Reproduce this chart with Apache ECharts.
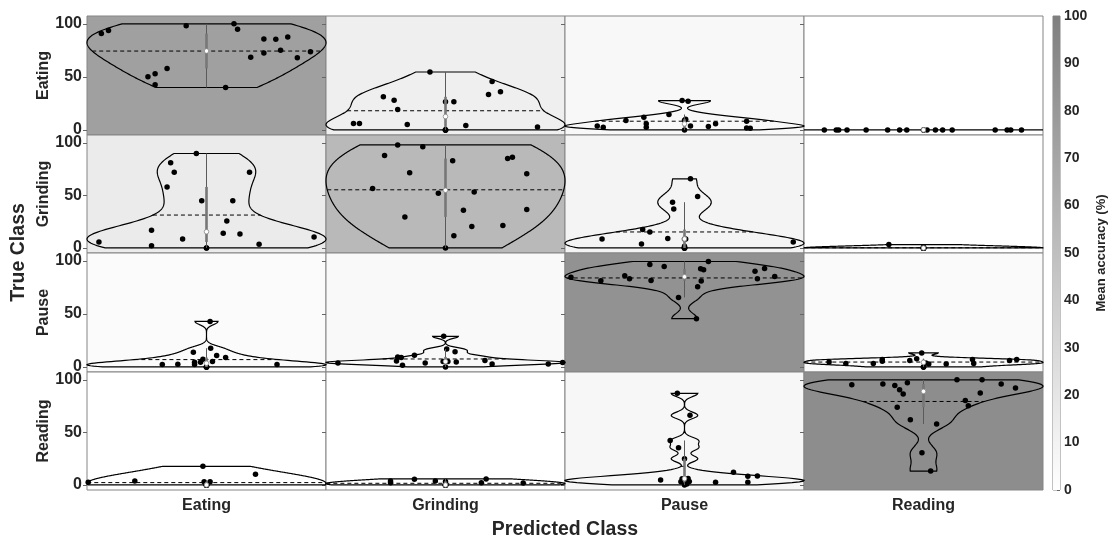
<!DOCTYPE html>
<html><head><meta charset="utf-8">
<script src="https://cdn.jsdelivr.net/npm/echarts@6/dist/echarts.min.js"></script>
<style>html,body{margin:0;padding:0;background:#fff}#c{width:1113px;height:545px}</style>
</head><body><div id="c"></div>
<script>
// ---------------- data ----------------
const classes = ['Eating', 'Grinding', 'Pause', 'Reading'];
const yTicks = [0, 50, 100];
const cbRange = [0, 100];
const cbTitle = 'Mean accuracy (%)';
const xTitle = 'Predicted Class';
const yTitle = 'True Class';

// per true class: one list per predicted class (accuracy % of each subject)
const eatingVals = [
  [90.8, 93.7, 98.1, 50.2, 53, 42.6, 58, 40, 100, 95, 68.5, 85.8, 72.6, 85.5, 75, 87.7, 68.1, 73.8],
  [54.6, 45.7, 33.4, 36, 31.2, 28, 26.5, 26.5, 19.2, 6, 6, 5, 4.1, 2.8, 0, 0, 0, 0],
  [3.8, 2.5, 8.8, 12, 5.7, 2.5, 14.5, 27.7, 27.1, 0, 3.8, 3.1, 5.7, 8.1, 1.9, 1.5, 9, 10],
  [0, 0, 0, 0, 0, 0, 0, 0, 0, 0, 0, 0, 0, 0, 0, 0, 0, 0]
];
const grindingVals = [
  [89.8, 81, 72, 72, 58, 45, 45, 25.7, 16.8, 14, 13.3, 8.6, 5.7, 10.5, 2.2, 3.5, 0, 0],
  [98, 96.2, 87.9, 82.9, 85, 86.3, 71.4, 70.5, 56.5, 52, 53.3, 35.9, 36.5, 29.5, 20.3, 21.3, 11.7, 0],
  [65.7, 48.9, 43.5, 37.1, 17.5, 15.2, 8.9, 8.6, 3.8, 5.7, 1.6, 8.6, 8.6, 0, 0, 0, 0, 0],
  [3.2, 0, 0, 0, 0, 0, 0, 0, 0, 0, 0, 0, 0, 0, 0, 0, 0, 0]
];
const pauseVals = [
  [42.9, 13.8, 17.6, 7.2, 10.7, 8.8, 4.4, 2.2, 2.2, 2.5, 2.2, 0, 0, 0, 0, 0, 4.5, 5],
  [28.8, 16.9, 14.4, 11, 9.4, 8.8, 5.6, 1.6, 3.8, 4.7, 6, 2.8, 0, 3.8, 2.8, 4.1, 5, 5],
  [96.6, 94.7, 99.4, 92.5, 91.5, 90.3, 92.8, 81.5, 80.9, 75.5, 83.1, 85.3, 65.5, 45.5, 84.6, 81.2, 85.9, 83.1],
  [13.2, 4.7, 3.1, 3.1, 6.9, 5.3, 6, 7.8, 0, 3.8, 2.8, 2.8, 6.9, 3.1, 6, 6.9, 0, 0]
];
const readingVals = [
  [17.7, 10.1, 3.8, 2.5, 3, 3, 0, 0, 0, 0, 0, 0, 0, 0, 0, 0, 0, 0],
  [3.8, 2.2, 5.4, 3.8, 5.7, 2.2, 1.9, 3.4, 0, 0, 0, 0, 0, 0, 0, 0, 0, 0],
  [87.1, 66.2, 42.3, 35.3, 24.9, 12, 8.2, 8.5, 4.7, 3.2, 2.5, 2.5, 0, 1, 3, 5.5, 5.9, 6.1],
  [95.3, 95.9, 94.6, 90.5, 86.4, 97.2, 100, 100, 95.9, 92.1, 87.4, 80.4, 75.4, 73.8, 62.1, 58, 30.6, 13.2]
];

// horizontal jitter of each dot (-1..1 of the half cell)
const eatingJit = [
  [-0.88, -0.82, -0.17, -0.49, -0.43, -0.43, -0.33, 0.16, 0.23, 0.26, 0.37, 0.48, 0.48, 0.58, 0.62, 0.68, 0.76, 0.87],
  [-0.13, 0.39, 0.36, 0.46, -0.52, -0.43, 0, 0.07, -0.40, -0.77, -0.72, -0.32, 0.17, 0.77, 0, 0, 0, 0],
  [-0.73, -0.68, -0.49, -0.34, -0.32, -0.32, -0.13, -0.02, 0.03, 0, 0.05, 0.2, 0.26, 0.52, 0.52, 0.55, 0, 0.01],
  [-0.83, -0.73, -0.71, -0.64, -0.48, -0.30, -0.20, -0.14, 0.03, 0.10, 0.16, 0.24, 0.60, 0.70, 0.73, 0.82, 0, 0]
];
const grindingJit = [
  [-0.085, -0.30, -0.27, 0.36, -0.33, -0.04, 0.22, 0.17, -0.46, 0.14, 0.28, -0.20, -0.90, 0.90, -0.46, 0.44, 0, 0],
  [-0.40, -0.19, -0.51, 0.06, 0.52, 0.56, -0.30, 0.68, -0.61, -0.06, 0.24, 0.15, 0.68, -0.34, 0.22, 0.48, 0.07, 0],
  [0.05, 0.11, -0.10, -0.09, -0.35, -0.29, -0.14, 0, -0.36, 0.91, 0, -0.69, 0.01, 0, 0, 0, 0, 0],
  [-0.29, 0, 0, 0, 0, 0, 0, 0, 0, 0, 0, 0, 0, 0, 0, 0, 0, 0]
];
const pauseJit = [
  [0.03, -0.11, 0.035, -0.03, 0.085, 0.16, -0.10, -0.10, -0.37, -0.24, 0.59, 0, 0, 0, 0, 0, -0.05, 0.05],
  [-0.015, 0.01, 0.08, -0.26, -0.40, -0.37, -0.41, -0.36, -0.17, 0.09, 0.33, 0.39, 0, -0.90, 0.86, 0.98, -0.02, 0.02],
  [-0.29, -0.17, 0.20, 0.135, 0.16, 0.59, 0.67, -0.28, 0.14, 0.11, 0.61, 0.755, -0.05, 0.10, -0.95, -0.70, -0.50, -0.46],
  [-0.015, -0.79, -0.65, -0.42, -0.345, -0.345, -0.115, -0.057, 0, 0.02, 0.044, 0.19, 0.41, 0.42, 0.72, 0.78, 0, 0]
];
const readingJit = [
  [-0.03, 0.41, -0.60, -0.99, -0.02, 0.03, 0, 0, 0, 0, 0, 0, 0, 0, 0, 0, 0, 0],
  [-0.46, -0.46, -0.26, -0.085, 0.34, 0.30, 0.65, 0, 0, 0, 0, 0, 0, 0, 0, 0, 0, 0],
  [-0.06, 0.046, -0.12, -0.05, 0, 0.41, 0.53, 0.61, -0.2, 0.04, 0.26, 0.53, 0, 0.02, -0.03, 0.01, -0.02, 0.03],
  [-0.60, -0.34, -0.24, -0.20, -0.17, -0.135, 0.28, 0.49, 0.65, 0.77, 0.475, 0.35, 0.375, -0.22, -0.11, 0.11, -0.013, 0.06]
];

// ---------------- helpers ----------------
const rowsVals = [eatingVals, grindingVals, pauseVals, readingVals];
const rowsJit = [eatingJit, grindingJit, pauseJit, readingJit];
const FONT = "'Liberation Sans', Arial, Helvetica, sans-serif";
const TXT = '#262626';

function quantileM(s, p) { // MATLAB quantile on sorted array
  const n = s.length;
  const pos = n * p + 0.5;
  if (pos <= 1) return s[0];
  if (pos >= n) return s[n - 1];
  const lo = Math.floor(pos);
  return s[lo - 1] + (pos - lo) * (s[lo] - s[lo - 1]);
}
function stats(vals) {
  const n = vals.length;
  const s = vals.slice().sort((a, b) => a - b);
  const med = quantileM(s, 0.5);
  const mean = vals.reduce((a, b) => a + b, 0) / n;
  const q1 = quantileM(s, 0.25), q3 = quantileM(s, 0.75), iqr = q3 - q1;
  let lo = q1 - 1.5 * iqr, hi = q3 + 1.5 * iqr;
  const inLo = vals.filter(v => v >= lo), inHi = vals.filter(v => v <= hi);
  lo = Math.max(lo, Math.min(...inLo));
  hi = Math.min(hi, Math.max(...inHi));
  const flat = s[n - 1] - s[0] <= 0;
  const ys = [], ws = [];
  if (!flat) {
    const dev = vals.map(v => Math.abs(v - med)).sort((a, b) => a - b);
    let sig = quantileM(dev, 0.5) / 0.6745;
    if (sig <= 0) sig = s[n - 1] - s[0];
    const h = sig * Math.pow(4 / (3 * n), 0.2);
    const N = 120;
    const ds = [];
    for (let i = 0; i < N; i++) {
      const y = s[0] + (s[n - 1] - s[0]) * i / (N - 1);
      let d = 0;
      for (const v of vals) { const u = (y - v) / h; d += Math.exp(-0.5 * u * u); }
      ys.push(y); ds.push(d);
    }
    const mx = Math.max(...ds);
    ds.forEach(d => ws.push(0.5 * d / mx));
  }
  return { s, med, mean, q1, q3, lo, hi, flat, ys, ws, min: s[0], max: s[n - 1] };
}
function widthAt(st, y) {
  if (st.flat) return 0.5;
  const { ys, ws } = st;
  if (y <= ys[0]) return ws[0];
  for (let i = 1; i < ys.length; i++) {
    if (y <= ys[i]) { const t = (y - ys[i - 1]) / (ys[i] - ys[i - 1]); return ws[i - 1] + t * (ws[i] - ws[i - 1]); }
  }
  return ws[ws.length - 1];
}
function grayOf(v) { // white (0) -> 50% gray (100)
  const g = Math.round(255 - Math.max(0, Math.min(100, v)) / 100 * 128);
  return 'rgb(' + g + ',' + g + ',' + g + ')';
}

// ---------------- build option ----------------
const L0 = 87, T0 = 16, CW = 239, CH = 118.5;
const YMIN = -4.8, YMAX = 107.4;
const grid = [], xAxis = [], yAxis = [], series = [];
const bold = (size) => ({ fontFamily: FONT, fontWeight: 'bold', fontSize: size, color: TXT });

for (let r = 0; r < 4; r++) {
  for (let c = 0; c < 4; c++) {
    const idx = grid.length;
    const top = Math.round(T0 + r * CH), bot = Math.round(T0 + (r + 1) * CH);
    const vals = rowsVals[r][c], jit = rowsJit[r][c];
    const st = stats(vals);
    grid.push({ left: L0 + c * CW, top: top, width: CW, height: bot - top, show: true,
      backgroundColor: grayOf(st.med), borderColor: '#858585', borderWidth: 1 });
    xAxis.push({ gridIndex: idx, type: 'value', min: -0.5, max: 0.5, position: 'bottom',
      axisLine: { show: false, onZero: false }, axisTick: { show: false }, axisLabel: { show: false }, splitLine: { show: false },
      name: r === 3 ? classes[c] : '', nameLocation: 'middle', nameGap: 8, nameTextStyle: bold(16) });
    yAxis.push({ gridIndex: idx, type: 'value', min: YMIN, max: YMAX, position: 'left',
      axisLine: { show: false, onZero: false }, splitLine: { show: false },
      axisTick: { show: true, length: 4, customValues: yTicks, lineStyle: { color: '#666', width: 1 } },
      axisLabel: { show: c === 0, customValues: yTicks, margin: 5, ...bold(16) },
      name: c === 0 ? classes[r] : '', nameLocation: 'middle', nameGap: 35, nameRotate: 90, nameTextStyle: bold(16) });

    // violin outline + mean line
    series.push({ type: 'custom', xAxisIndex: idx, yAxisIndex: idx, silent: true, z: 2, clip: false,
      data: [[0, st.mean]],
      renderItem: function (p, api) {
        const ch = [];
        if (st.flat) {
          const a = api.coord([-0.5, st.min]), b = api.coord([0.5, st.min]);
          ch.push({ type: 'line', shape: { x1: a[0], y1: a[1], x2: b[0], y2: b[1] }, style: { stroke: '#000', lineWidth: 1.2 } });
        } else {
          const pts = [];
          for (let i = 0; i < st.ys.length; i++) pts.push(api.coord([st.ws[i], st.ys[i]]));
          for (let i = st.ys.length - 1; i >= 0; i--) pts.push(api.coord([-st.ws[i], st.ys[i]]));
          ch.push({ type: 'polygon', shape: { points: pts }, style: { fill: null, stroke: '#000', lineWidth: 1.2 } });
          const wm = widthAt(st, st.mean);
          const a = api.coord([-wm, st.mean]), b = api.coord([wm, st.mean]);
          ch.push({ type: 'line', shape: { x1: a[0], y1: a[1], x2: b[0], y2: b[1] }, style: { stroke: '#000', lineWidth: 1, lineDash: [4, 3] } });
        }
        return { type: 'group', children: ch };
      } });

    // subject dots
    series.push({ type: 'scatter', xAxisIndex: idx, yAxisIndex: idx, silent: true, z: 3,
      symbolSize: 5.5, itemStyle: { color: '#000', opacity: 1 },
      data: vals.map((v, i) => [jit[i] * 0.5, v]) });

    // whisker, box, median
    series.push({ type: 'custom', xAxisIndex: idx, yAxisIndex: idx, silent: true, z: 4, clip: false,
      data: [[0, st.med]],
      renderItem: function (p, api) {
        const ch = [];
        const wl = api.coord([0, st.lo]), wh = api.coord([0, st.hi]);
        ch.push({ type: 'line', shape: { x1: wl[0], y1: wl[1], x2: wh[0], y2: wh[1] }, style: { stroke: '#5a5a5a', lineWidth: 1 } });
        const b1 = api.coord([0, st.q1]), b3 = api.coord([0, st.q3]);
        ch.push({ type: 'line', shape: { x1: b1[0], y1: b1[1], x2: b3[0], y2: b3[1] }, style: { stroke: '#777', lineWidth: 2.6 } });
        const m = api.coord([0, st.med]);
        ch.push({ type: 'circle', shape: { cx: m[0], cy: m[1], r: 2.3 }, style: { fill: '#fff', stroke: '#8a8a8a', lineWidth: 0.8 } });
        return { type: 'group', children: ch };
      } });
  }
}

// overlay grid carrying the overall axis titles
const ov = grid.length;
grid.push({ left: L0, top: T0, width: 4 * CW, height: 474, show: false });
xAxis.push({ gridIndex: ov, type: 'value', min: 0, max: 1, position: 'bottom', axisLine: { show: false, onZero: false }, axisTick: { show: false },
  axisLabel: { show: false }, splitLine: { show: false }, name: xTitle, nameLocation: 'middle', nameGap: 31, nameTextStyle: bold(19.5) });
yAxis.push({ gridIndex: ov, type: 'value', min: 0, max: 1, position: 'left', axisLine: { show: false, onZero: false }, axisTick: { show: false },
  axisLabel: { show: false }, splitLine: { show: false }, name: yTitle, nameLocation: 'middle', nameGap: 58, nameRotate: 90, nameTextStyle: bold(19.5) });

// colorbar
const cb = grid.length;
grid.push({ left: 1053, top: T0, width: 7, height: 474, show: true, borderColor: '#858585', borderWidth: 1 });
xAxis.push({ gridIndex: cb, type: 'value', min: 0, max: 1, show: false });
yAxis.push({ gridIndex: cb, type: 'value', position: 'right', min: cbRange[0], max: cbRange[1], interval: 10,
  axisLine: { show: false, onZero: false }, splitLine: { show: false },
  axisTick: { show: true, inside: true, length: 3, lineStyle: { color: '#666' } },
  axisLabel: { margin: 4, ...bold(14) },
  name: cbTitle, nameLocation: 'middle', nameGap: 35, nameRotate: 90, nameTextStyle: bold(13) });
series.push({ type: 'custom', xAxisIndex: cb, yAxisIndex: cb, silent: true, z: 1, data: [cbRange],
  renderItem: function (p, api) {
    const a = api.coord([0, api.value(0)]), b = api.coord([1, api.value(1)]);
    return { type: 'rect', shape: { x: a[0], y: b[1], width: b[0] - a[0], height: a[1] - b[1] },
      style: { fill: new echarts.graphic.LinearGradient(0, 0, 0, 1, [
        { offset: 0, color: grayOf(cbRange[1]) }, { offset: 1, color: grayOf(cbRange[0]) }]) } };
  } });

const chart = echarts.init(document.getElementById('c'), null, { renderer: 'canvas' });
chart.setOption({ animation: false, backgroundColor: '#fff', grid, xAxis, yAxis, series });
</script></body></html>
